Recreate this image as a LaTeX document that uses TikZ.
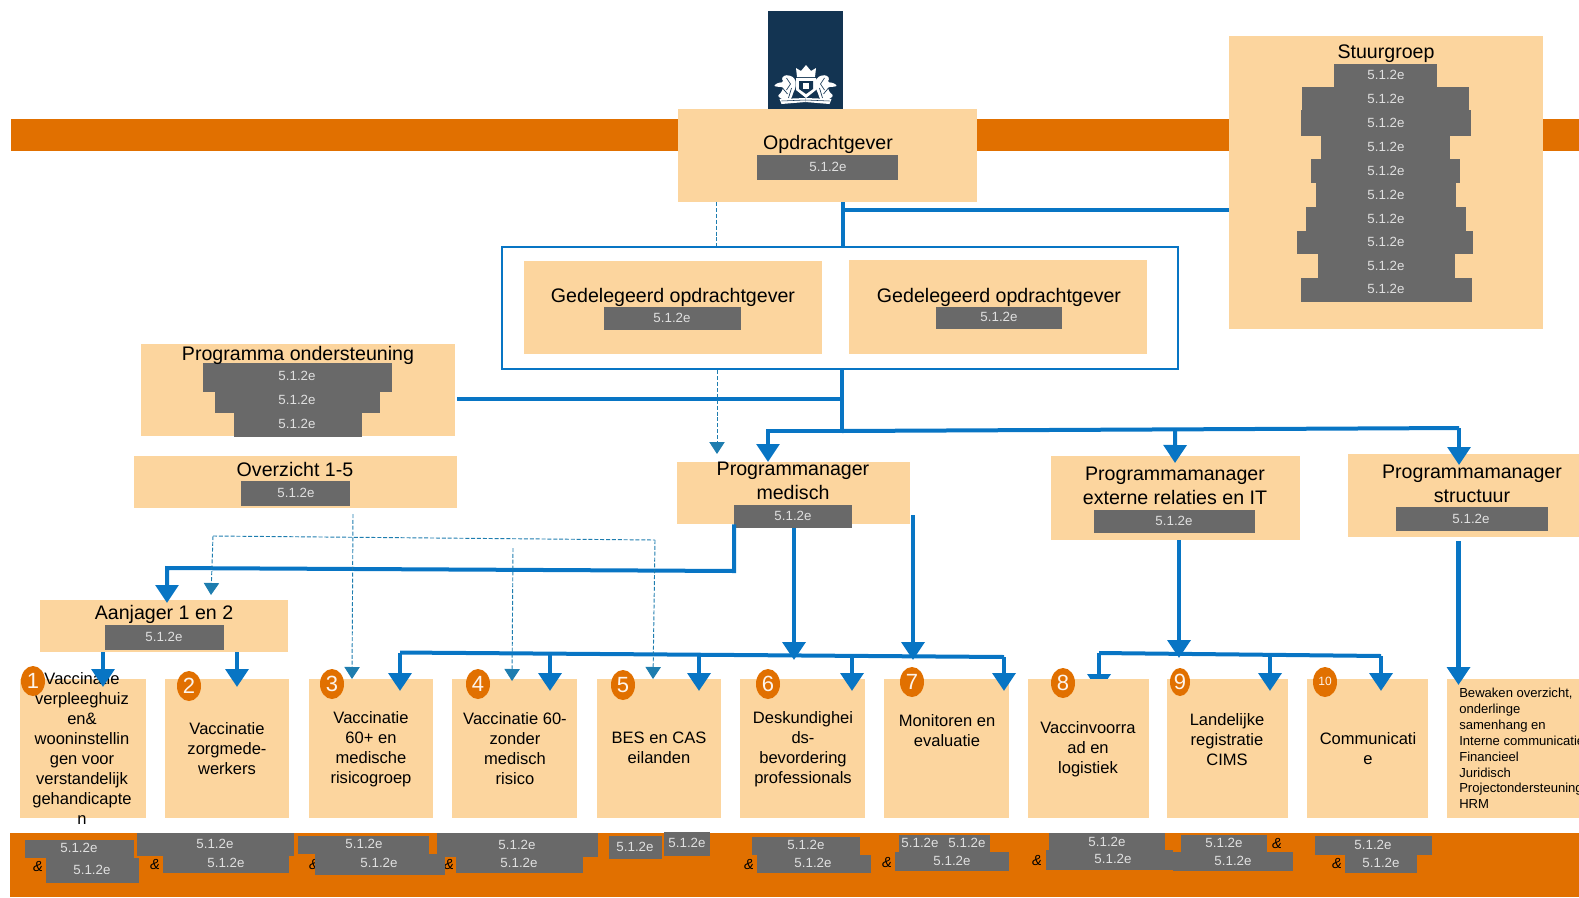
\documentclass[tikz,border=0pt]{standalone}
\usepackage{fontspec}
\setmainfont{Liberation Sans}
\usetikzlibrary{arrows.meta,shapes.geometric,positioning,calc}
\definecolor{boxfill}{RGB}{252,213,158}
\definecolor{bandorange}{RGB}{225,112,0}
\definecolor{redactgray}{RGB}{105,105,105}
\definecolor{linkblue}{RGB}{8,117,196}
\definecolor{dashblue}{RGB}{30,125,175}
\definecolor{logonavy}{RGB}{19,52,82}
\tikzset{
	size/.style 2 args={minimum width=#1*0.75pt,minimum height=#2*0.75pt},
	orgbox/.style={rectangle,fill=boxfill,inner sep=0pt},
	title/.style={inner sep=0pt,align=center,font=\fontsize{14.7}{18}\selectfont},
	coltext/.style={inner sep=0pt,align=center,font=\fontsize{12.4}{15}\selectfont},
	redact/.style={fill=redactgray},
	redtext/.style={inner sep=0pt,text=white!88!black,font=\fontsize{10}{12}\selectfont},
	andsign/.style={inner sep=0pt,font=\fontsize{11}{12}\selectfont\itshape},
	numdot/.style={ellipse,fill=bandorange,inner sep=0pt,size={24}{30},text=white!92!bandorange,font=\fontsize{16.5}{18}\selectfont},
	bigarrow/.style={linkblue,line width=3.6pt,-{Triangle[width=17pt,length=13.5pt]}},
	busline/.style={linkblue,line width=3pt},
	thinline/.style={linkblue,line width=2.6pt},
	dashlink/.style={dashblue,line width=0.7pt,dash pattern=on 3pt off 1.4pt},
	dasharrow/.style={dashlink,-{Triangle[width=11.5pt,length=9pt]}}
}
\begin{document}
\begin{tikzpicture}[x=0.75pt,y=-0.75pt]
	\useasboundingbox (0,0) rectangle (1579,897);
	\clip (0,0) rectangle (1579,897);
	% bands
	\fill[bandorange] (11,119) rectangle (1579,151);
	\fill[bandorange] (10,833) rectangle (1579,897);
	
	% logo
	\node[fill=logonavy,inner sep=0pt,size={75}{98}] (logo) at (805.5,60) {};
	\fill[white] (797,77)--(796,68)--(801,71)--(806,65)--(811,71)--(816,68)--(815,77)--cycle;
	\fill[white] (796,78) rectangle (816,90) (796,90)--(806,98)--(816,90)--cycle;
	\fill[logonavy] (799,81) rectangle (813,89) (799,89)--(806,94)--(813,89)--cycle;
	\fill[white] (803,83) rectangle (809,89);
	\foreach \s in {1,-1}{
		\begin{scope}[shift={(805.5,0)},xscale=\s]
			\fill[white,rounded corners=1pt] (-10,80)--(-14,76)--(-20,75)--(-24,78)--(-22,82)--(-28,83)--(-32,86)--(-26,87)--(-22,87)--(-24,92)--(-28,96)--(-22,100)--(-17,102)--(-14,98)--(-12,92)--(-10,88)--cycle;
			\draw[logonavy,line width=0.5pt] (-19,78)--(-15,84)--(-19,90) (-23,88)--(-18,94) (-14,88)--(-17,98);
			\fill[white] (0,98)--(-26,99)--(-24,104)--(0,102)--cycle;
			\draw[logonavy,line width=0.4pt] (0,100)--(-24,101);
		\end{scope}
	}
	
	% boxes
	\node[orgbox,size={299}{93}] (opdracht) at (827.5,155.5) {};
	\node[orgbox,size={314}{293}] (stuur) at (1386,182.5) {};
	\node[draw=linkblue,line width=2.2pt,rectangle,inner sep=0pt,size={676}{122}] (deleg) at (840,308) {};
	\node[orgbox,size={298}{93}] (delega) at (673,307.5) {};
	\node[orgbox,size={298}{94}] (delegb) at (998,307) {};
	\node[orgbox,size={314}{92}] (steun) at (298,390) {};
	\node[orgbox,size={323}{52}] (overzicht) at (295.5,482) {};
	\node[orgbox,size={233}{62}] (pmmed) at (793.5,493) {};
	\node[orgbox,size={249}{84}] (pmext) at (1175.5,498) {};
	\node[orgbox,size={233}{83}] (pmstruct) at (1464.5,495.5) {};
	\node[orgbox,size={248}{52}] (aanjager) at (164,626) {};
	\foreach \n/\cx/\w in {1/83/126,2/227/124,3/371/124,4/514.5/125,5/659/124,6/802.5/125,7/946.5/125,9/1227.5/121,10/1367.5/121,11/1513/132}{
		\node[orgbox,size={\w}{139}] (col\n) at (\cx,748.5) {};
	}
	
	% redacted names
	\foreach \xa/\ya/\xb/\yb/\tx/\ty [count=\i] in {
		757/155/898/180/828/167,
		1334/64/1437/87/1386/75, 1302/87/1469/110/1386/99, 1301/110/1471/136/1386/123,
		1321/136/1450/159/1386/147, 1311/159/1460/183/1386/171, 1316/183/1456/207/1386/195,
		1306/207/1466/231/1386/219, 1297/231/1473/254/1386/242, 1318/254/1455/278/1386/266,
		1301/278/1472/302/1386/289,
		604/307/741/330/672/318, 936/307/1062/329/999/317,
		203/363/392/392/297/376, 215/392/380/413/297/400, 234/413/362/437/297/424,
		241/481/350/506/296/493, 734/505/852/528/793/516,
		1094/510/1255/533/1174/521, 1396/507/1548/531/1471/519, 105/625/224/650/164/637}{
		\fill[redact] (\xa,\ya) rectangle (\xb,\yb);
		\node[redtext] (red\i) at (\tx,\ty) {5.1.2e};
	}
	\foreach \n/\x/\y in {a/38/866,b/155/864,c/314/864,d/449/864,e/749/864,f/887/862,g/1037/860,h/1277/843,i/1337/863}{
		\node[andsign] (and\n) at (\x,\y) {\&};
	}
	\foreach \xa/\ya/\xb/\yb/\tx/\ty [count=\i] in {
		25/840/134/858/79/848, 46/858/139/883/92/870,
		137/833/294/856/215/844, 163/856/289/873/226/863,
		298/836/429/854/364/844, 315/854/445/875/379/863,
		437/833/598/857/517/845, 456/857/583/873/519/863,
		609/836/662/859/635/847, 664/832/710/856/687/843,
		752/837/860/855/806/845, 757/855/871/873/813/863,
		899/835/990/852/920/843, 895/852/1009/871/952/861,
		1049/833/1165/850/1107/842, 1046/850/1173/870/1113/859,
		1181/835/1267/852/1224/843, 1173/852/1293/871/1233/861,
		1315/836/1432/855/1373/845, 1345/855/1417/873/1381/863}{
		\fill[redact] (\xa,\ya) rectangle (\xb,\yb);
		\node[redtext] (low\i) at (\tx,\ty) {5.1.2e};
	}
	\node[redtext] (lowx) at (967,843) {5.1.2e};
	
	% titles
	\node[title] (topdracht) at (828,144) {Opdrachtgever};
	\node[title] (tstuur) at (1386,54) {Stuurgroep};
	\node[title] (tdelega) at (673,297) {Gedelegeerd opdrachtgever};
	\node[title] (tdelegb) at (999,297) {Gedelegeerd opdrachtgever};
	\node[title] (tsteun) at (298,355) {Programma ondersteuning};
	\node[title] (toverzicht) at (295,469) {Overzicht 1-5};
	\node[title] (tpmmed) at (793,481) {Programmanager\\medisch};
	\node[title] (tpmext) at (1175,486) {Programmamanager\\externe relaties en IT};
	\node[title] (tpmstruct) at (1472,484) {Programmamanager\\structuur};
	\node[title] (taanjager) at (164,614) {Aanjager 1 en 2};
	
	% column texts
	\node[coltext] (lab1) at (82,748) {Vaccinatie\\verpleeghuiz\\en\&\\wooninstellin\\gen voor\\verstandelijk\\gehandicapte\\n};
	\node[coltext] (lab2) at (227,749) {Vaccinatie\\zorgmede-\\werkers};
	\node[coltext] (lab3) at (371,749.5) {Vaccinatie\\60+ en\\medische\\risicogroep};
	\node[coltext] (lab4) at (515,748.5) {Vaccinatie 60-\\zonder\\medisch\\risico};
	\node[coltext] (lab5) at (659,748) {BES en CAS\\eilanden};
	\node[coltext] (lab6) at (803,749) {Deskundighei\\ds-\\bevordering\\professionals};
	\node[coltext] (lab7) at (947,731) {Monitoren en\\evaluatie};
	\node[coltext] (lab9) at (1227,740) {Landelijke\\registratie\\CIMS};
	\node[coltext] (lab10) at (1368,749) {Communicati\\e};
	\node[inner sep=0pt,align=left,anchor=north west,font=\fontsize{9.8}{11.9}\selectfont] (lab11) at (1459,688) {Bewaken overzicht,\\onderlinge\\samenhang en\\Interne communicatie\\Financieel\\Juridisch\\Projectondersteuning\\HRM};
	
	% numbers
	\foreach \n/\x/\y in {1/33/681,2/189/686,3/332/684,4/478/684,5/623/685,6/768/684,7/912/682}{
		\node[numdot] (num\n) at (\x,\y) {\n};
	}
	
	% top lines
	\coordinate (hub) at (843,210);
	\coordinate (hubb) at (842,431);
	\coordinate (steunjoin) at (842,399);
	\coordinate (steunstart) at (457,399);
	\draw[thinline] (opdracht.south -| hub) -- (deleg.north -| hub);
	\draw[thinline] (hub) -- (hub -| stuur.west);
	\draw[thinline] (deleg.south -| hubb) -- (hubb);
	\draw[thinline] (steunstart) -- (steunjoin);
	\coordinate (medtip) at (768,462);
	\coordinate (exttip) at (1175,463);
	\coordinate (structtip) at (1459,465);
	\coordinate (bustop) at (1459,428);
	\draw[busline] (hubb) -- (bustop);
	\draw[bigarrow,line width=3pt] (hubb) -- (768,431) -- (medtip);
	\draw[bigarrow,line width=3pt] ($(hubb)!0.54!(bustop)$) -- (exttip);
	\draw[bigarrow,line width=3pt] (bustop) -- (structtip);
	
	% medisch to aanjager
	\coordinate (ajstart) at (734,571);
	\coordinate (ajtip) at (167,603);
	\draw[bigarrow,line width=3pt] (pmmed.south -| ajstart) -- (ajstart) -- (167,568) -- (ajtip);
	\coordinate (tip1) at (103,687);
	\coordinate (tip2) at (237,687);
	\draw[bigarrow] (aanjager.south -| tip1) -- (tip1);
	\draw[bigarrow] (aanjager.south -| tip2) -- (tip2);
	
	% bus medisch
	\coordinate (busa) at (400,652.5);
	\coordinate (busb) at (1004,657);
	\draw[busline] (busa) -- (busb);
	\foreach \n/\x/\y in {3/400/652.5,4/550/654,5/699/655,6/852/656,7/1004/657}{
		\coordinate (busdrop\n) at (\x,\y);
		\coordinate (tip\n) at (\x,691);
		\draw[bigarrow] (busdrop\n) -- (tip\n);
	}
	\coordinate (tipm) at (794,660);
	\coordinate (tipn) at (913,660);
	\coordinate (startn) at (913,515);
	\coordinate (startm) at (794,528);
	\draw[bigarrow] (startm) -- (tipm);
	\draw[bigarrow] (startn) -- (tipn);
	
	% bus ext
	\coordinate (busc) at (1099,653);
	\coordinate (busd) at (1381,656);
	\coordinate (tip8) at (1099,692);
	\coordinate (tip9) at (1270,691);
	\coordinate (tip10) at (1381,691);
	\coordinate (tipe) at (1179,658);
	\coordinate (tips) at (1458.5,685);
	\coordinate (startp) at (1458.5,541);
	\draw[busline] (busc) -- (busd);
	\draw[bigarrow] (busc) -- (tip8);
	\draw[bigarrow] (1270,655) -- (tip9);
	\draw[bigarrow] (busd) -- (tip10);
	\draw[bigarrow] (pmext.south -| tipe) -- (tipe);
	\draw[bigarrow] (startp) -- (tips);
	
	% box 8 covers its arrow
	\node[orgbox,size={121}{139}] (col8) at (1088.5,748.5) {};
	\node[coltext] (lab8) at (1088,749) {Vaccinvoorra\\ad en\\logistiek};
	\node[numdot] (num8) at (1063,683) {8};
	\node[numdot,size={20}{28}] (num9) at (1180,682) {9};
	\node[numdot,font=\fontsize{9}{11}\selectfont] (num10) at (1325,682) {\raisebox{1.5pt}{10}};
	
	% dashed links
	\coordinate (dasha) at (716,202);
	\coordinate (dashb) at (717,454);
	\draw[dashlink] (opdracht.south -| dasha) -- (deleg.north -| dasha);
	\draw[dasharrow] (deleg.south -| dashb) -- (dashb);
	\coordinate (dashc) at (353,514);
	\coordinate (tipc) at (352,679);
	\draw[dasharrow] (dashc) -- (tipc);
	\coordinate (dashd) at (213,536);
	\coordinate (dashe) at (655,540);
	\coordinate (tipd) at (211,595);
	\coordinate (tipf) at (512,681);
	\coordinate (dashf) at (513,548);
	\coordinate (tipg) at (653,679);
	\draw[dashlink] (dashd) -- (dashe);
	\draw[dasharrow] (dashd) -- (tipd);
	\draw[dasharrow] (dashf) -- (tipf);
	\draw[dasharrow] (dashe) -- (tipg);
\end{tikzpicture}
\end{document}
